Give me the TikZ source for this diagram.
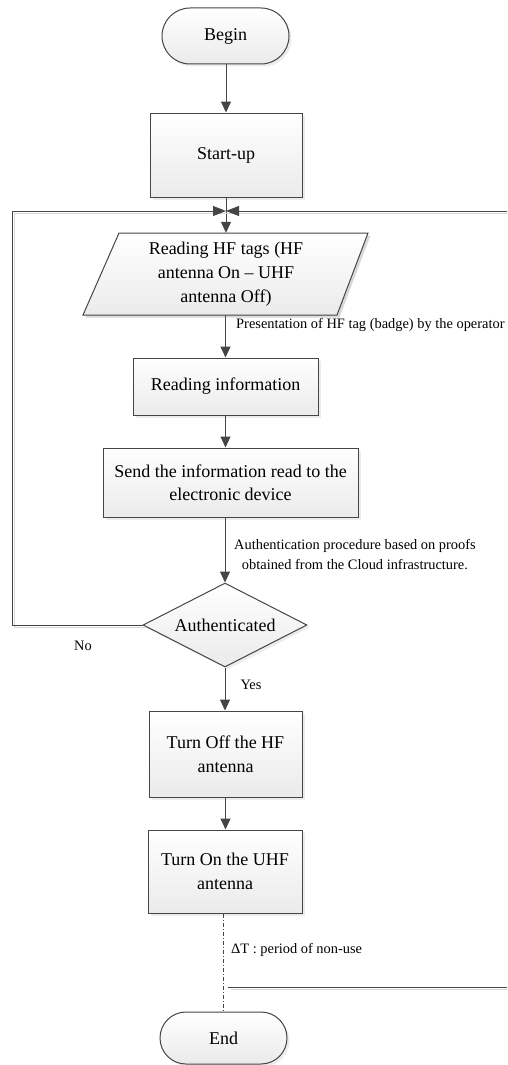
\documentclass[tikz,border=0pt]{standalone}
\usepackage{fontspec}
\setmainfont{Liberation Serif}
\usetikzlibrary{arrows.meta,shadows,shapes.geometric,calc}
\definecolor{ln}{HTML}{454545}
\newcommand\mainfnt{\fontsize{18}{23.5}\selectfont}
\newcommand\parafnt{\fontsize{18}{24}\selectfont}
\newcommand\labfnt{\fontsize{14.4}{20}\selectfont}
\begin{document}
\begin{tikzpicture}[x=1pt,y=-1pt,
  shaded/.style={draw=ln, line width=1pt, top color=white, bottom color=gray!16,
    drop shadow={shadow xshift=2.5pt,shadow yshift=-2.5pt,fill=gray!30}},
  box/.style={shaded, inner sep=0pt, align=center, font=\mainfnt},
  term/.style={box, rounded corners=#1},
  dia/.style={box, diamond, aspect=1.95},
  lab/.style={font=\labfnt, inner sep=0pt},
  arr/.style={draw=ln, line width=1pt, -{Triangle[length=11pt,width=10pt]}},
  bow/.style={draw=ln, line width=1pt, -{Triangle[length=13pt,width=10pt]}},
  plain/.style={draw=ln, line width=1pt},
  sh/.style={preaction={draw=gray!30, line width=1pt, -, transform canvas={xshift=2.5pt,yshift=-2.5pt}}}
]
\useasboundingbox (0,0) rectangle (507,1065);

% nodes
\node[term=28pt, minimum width=127pt, minimum height=56pt] (begin) at (225.5,36) {Begin};
\node[box, minimum width=152pt, minimum height=84pt] (start) at (226,155) {Start-up};

% parallelogram
\fill[gray!30] (121.5,235.5) -- (370.5,235.5) -- (339.5,317.5) -- (85.5,317.5) -- cycle;
\shade[top color=white, bottom color=gray!16, draw=ln, line width=1pt]
  (119,233) -- (368,233) -- (337,315) -- (83,315) -- cycle;
\node[inner sep=0pt, minimum width=251pt, minimum height=82pt, align=center, font=\parafnt]
  (read) at (226,274) {Reading HF tags (HF\\antenna On -- UHF\\antenna Off)};

\node[box, minimum width=185pt, minimum height=57pt] (info) at (225.5,386.5) {Reading information};
\node[box, minimum width=255pt, minimum height=69pt] (send) at (230.5,482.5) {Send the information read to the\\electronic device};
\node[dia, minimum width=164pt, minimum height=84pt] (auth) at (225,625) {Authenticated};
\node[box, minimum width=153pt, minimum height=86pt] (off) at (225.5,754) {Turn Off the HF\\antenna};
\node[box, minimum width=154pt, minimum height=83pt] (on) at (225,871.5) {Turn On the UHF\\antenna};
\node[term=26pt, minimum width=127pt, minimum height=52pt] (end) at (223.5,1038) {End};

% coordinates
\coordinate (j) at (226,211);
\coordinate (lc) at (12,211);
\coordinate (lb) at (12,625);
\coordinate (rc) at (507,211);
\coordinate (b1) at (228,987);
\coordinate (b2) at (507,987);

% connectors
\draw[arr] (begin.south -| start.north) -- (start.north);
\draw[arr] (start.south) -- (start.south |- read.north);
\draw[arr] (read.south -| info.north) -- (info.north);
\draw[arr] (info.south) -- (info.south |- send.north);
\draw[arr] (auth.north |- send.south) -- (auth.north);
\draw[arr] (auth.south) -- (auth.south |- off.north);
\draw[arr] (off.south) -- (off.south |- on.north);
\draw[plain, dash pattern=on 4pt off 2pt on 1pt off 2pt] (on.south -| end.north) -- (end.north);

\draw[bow, sh] (auth.west) -- (lb) -- (lc) -- (j);
\draw[bow, sh] (rc) -- (j);
\draw[plain, sh] (b1) -- (b2);

% labels
\node[lab, anchor=west] (l1) at (236,325) {Presentation of HF tag (badge) by the operator};
\node[lab, anchor=west, align=center] (l2) at (234,555) {Authentication procedure based on proofs\\obtained from the Cloud infrastructure.};
\node[lab] (no) at (83,646) {No};
\node[lab] (yes) at (251,685) {Yes};
\node[lab, anchor=west] (dt) at (231,950) {ΔT : period of non-use};
\end{tikzpicture}
\end{document}
